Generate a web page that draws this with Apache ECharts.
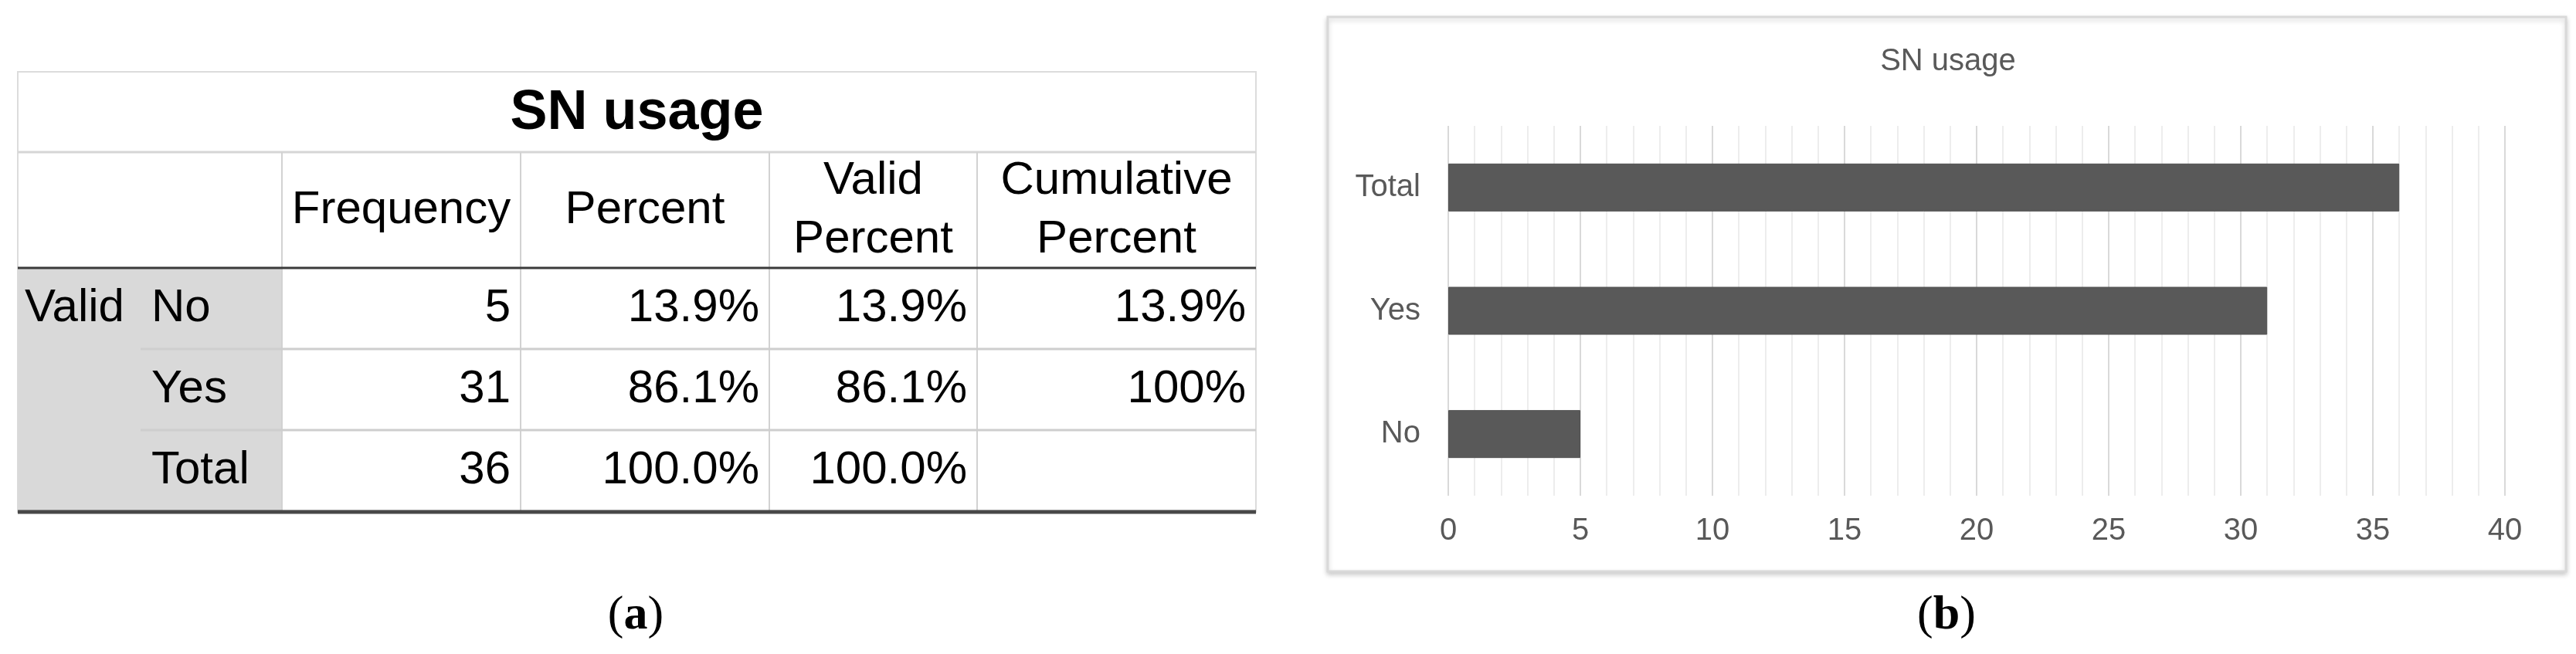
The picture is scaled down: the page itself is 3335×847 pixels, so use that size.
<!DOCTYPE html>
<html>
<head>
<meta charset="utf-8">
<script src="https://cdn.jsdelivr.net/npm/echarts@6/dist/echarts.min.js"></script>
<style>
html,body{margin:0;padding:0;background:#fff;}
#main{width:3335px;height:847px;}
</style>
</head>
<body>
<div id="main"></div>
<script>
// ---- data ----
const tableTitle = 'SN usage';
const chartTitle = 'SN usage';
const groupLabel = 'Valid';
const categories = ['No', 'Yes', 'Total'];
const frequency = [5, 31, 36];
const percent = ['13.9%', '86.1%', '100.0%'];
const validPercent = ['13.9%', '86.1%', '100.0%'];
const cumulativePercent = ['13.9%', '100%', ''];
const tableHeaders = ['Frequency', 'Percent', 'Valid\nPercent', 'Cumulative\nPercent'];
const xMin = 0, xMax = 40, xInterval = 5;
const captions = ['a', 'b'];

// ---- layout ----
const FONT = '"Liberation Sans", Arial, Helvetica, sans-serif';
const T = { left: 23, right: 1626, top: 93, titleBottom: 197, headBottom: 347, rowH: 105, bottom: 663 };
const colX = [23, 365, 674, 996, 1265, 1626];
const innerX = 182;
const rowLabelX = 196;

const g = [];
// table title row
g.push({ type: 'rect', shape: { x: T.left, y: T.top, width: T.right - T.left, height: T.bottom - T.top },
  style: { fill: '#fff', stroke: '#dcdcdc', lineWidth: 2 }, z: 1 });
// grey label area
g.push({ type: 'rect', shape: { x: colX[0], y: T.headBottom, width: colX[1] - colX[0], height: T.bottom - T.headBottom },
  style: { fill: '#d9d9d9' }, z: 2 });
// title row bottom line
g.push({ type: 'line', shape: { x1: T.left, y1: T.titleBottom, x2: T.right, y2: T.titleBottom },
  style: { stroke: '#d6d6d6', lineWidth: 3 }, z: 3 });
// vertical column lines
for (let i = 1; i < colX.length - 1; i++) {
  g.push({ type: 'line', shape: { x1: colX[i], y1: T.titleBottom, x2: colX[i], y2: T.bottom },
    style: { stroke: '#d2d2d2', lineWidth: 2 }, z: 3 });
}
// row separators
for (let r = 1; r < categories.length; r++) {
  const y = T.headBottom + r * T.rowH;
  g.push({ type: 'line', shape: { x1: innerX, y1: y, x2: T.right, y2: y },
    style: { stroke: '#cecece', lineWidth: 3 }, z: 3 });
}
// thick lines
g.push({ type: 'line', shape: { x1: T.left, y1: T.headBottom, x2: T.right, y2: T.headBottom },
  style: { stroke: '#3a3a3a', lineWidth: 3 }, z: 4 });
g.push({ type: 'line', shape: { x1: T.left, y1: T.bottom, x2: T.right, y2: T.bottom },
  style: { stroke: '#484848', lineWidth: 5 }, z: 4 });
// table title text
g.push({ type: 'text', x: (T.left + T.right) / 2, y: (T.top + T.titleBottom) / 2 + 2, z: 5,
  style: { text: tableTitle, font: 'bold 72px ' + FONT, fill: '#000', align: 'center', verticalAlign: 'middle' } });
// header texts
tableHeaders.forEach((h, i) => {
  g.push({ type: 'text', x: (colX[i + 1] + colX[i + 2]) / 2, y: (T.titleBottom + T.headBottom) / 2, z: 5,
    style: { text: h, font: '60px ' + FONT, lineHeight: 76, fill: '#000', align: 'center', verticalAlign: 'middle' } });
});
// body
g.push({ type: 'text', x: 32, y: T.headBottom + T.rowH / 2, z: 5,
  style: { text: groupLabel, font: '60px ' + FONT, fill: '#000', align: 'left', verticalAlign: 'middle' } });
const cols = [frequency.map(String), percent, validPercent, cumulativePercent];
categories.forEach((c, r) => {
  const cy = T.headBottom + r * T.rowH + T.rowH / 2;
  g.push({ type: 'text', x: rowLabelX, y: cy, z: 5,
    style: { text: c, font: '60px ' + FONT, fill: '#000', align: 'left', verticalAlign: 'middle' } });
  cols.forEach((col, i) => {
    g.push({ type: 'text', x: colX[i + 2] - 13, y: cy, z: 5,
      style: { text: col[r], font: '60px ' + FONT, fill: '#000', align: 'right', verticalAlign: 'middle' } });
  });
});
// chart box
g.push({ type: 'rect', shape: { x: 1719, y: 22, width: 3322 - 1719, height: 740 - 22 }, z: -10,
  style: { fill: '#fff', stroke: '#d9d9d9', lineWidth: 3, shadowBlur: 6, shadowColor: 'rgba(0,0,0,0.18)', shadowOffsetY: 3 } });
// chart title
g.push({ type: 'text', x: 2522, y: 80, z: 5,
  style: { text: chartTitle, font: '40px ' + FONT, fill: '#595959', align: 'center', verticalAlign: 'middle' } });
// captions
[823, 2520].forEach((x, i) => {
  g.push({ type: 'text', x: x, y: 798, z: 5,
    style: { text: '{p|(}{b|' + captions[i] + '}{p|)}', align: 'center', verticalAlign: 'middle',
      rich: { p: { font: '62px "Liberation Serif", "Times New Roman", serif', fill: '#000' },
              b: { font: 'bold 62px "Liberation Serif", "Times New Roman", serif', fill: '#000' } } } });
});

const chart = echarts.init(document.getElementById('main'), null, { renderer: 'canvas' });
chart.setOption({
  backgroundColor: '#fff',
  animation: false,
  graphic: { elements: g },
  grid: { left: 1875, right: 92, top: 163, bottom: 847 - 642, containLabel: false },
  xAxis: {
    type: 'value', min: xMin, max: xMax, interval: xInterval,
    axisLine: { show: false }, axisTick: { show: false },
    axisLabel: { color: '#595959', fontSize: 40, fontFamily: FONT, margin: 26 },
    splitLine: { show: true, lineStyle: { color: '#d9d9d9', width: 2 } },
    minorTick: { show: false, splitNumber: 5 },
    minorSplitLine: { show: true, lineStyle: { color: '#ededed', width: 2 } }
  },
  yAxis: {
    type: 'category', data: categories,
    axisLine: { show: false }, axisTick: { show: false },
    axisLabel: { color: '#595959', fontSize: 40, fontFamily: FONT, margin: 36 },
    splitLine: { show: false }
  },
  series: [{
    type: 'bar', data: frequency, barWidth: 62,
    itemStyle: { color: '#595959', borderColor: '#505050', borderWidth: 1 }
  }]
});
</script>
</body>
</html>
